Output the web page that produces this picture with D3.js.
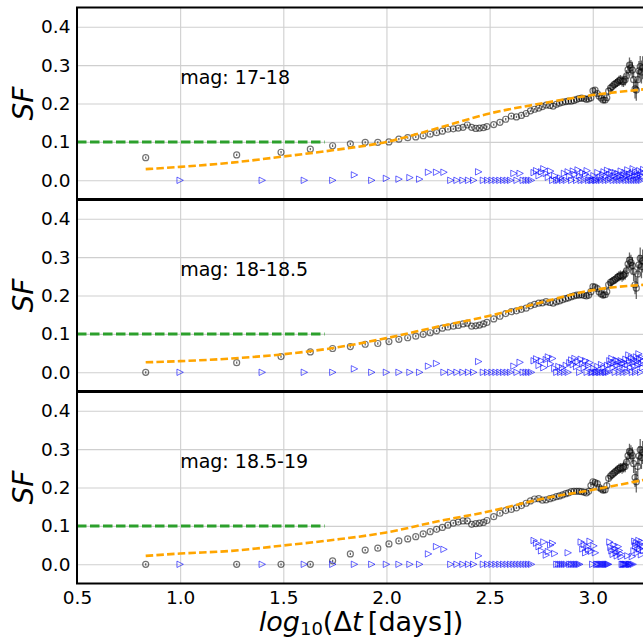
<!DOCTYPE html>
<html>
<head>
<meta charset="utf-8">
<script src="https://cdn.jsdelivr.net/npm/d3@7"></script>
<style>
  html, body { margin: 0; padding: 0; background: #fff; }
  svg { display: block; }
  text { font-family: "DejaVu Sans", sans-serif; fill: #000; }
</style>
</head>
<body>
<svg id="chart" width="643" height="641"></svg>
<script>
// ---------------- data ----------------
const xTicks = [0.5, 1.0, 1.5, 2.0, 2.5, 3.0];
const yTicks = [0.0, 0.1, 0.2, 0.3, 0.4];
const panelLabels = ["mag: 17-18", "mag: 18-18.5", "mag: 18.5-19"];

// structure-function bins (log10 of time lag in days)
const circX = [0.833,1.274,1.489,1.631,1.739,1.825,1.897,1.958,2.012,2.060,2.103,2.142,2.178,2.212,2.243,2.271,2.298,2.324,2.348,2.371,2.392,2.413,2.433,2.451,2.470,2.487,
  2.520,2.550,2.578,2.605,2.630,2.654,2.677,2.698,2.718,2.738,
  2.756,2.774,2.792,2.808,2.824,2.839,2.854,2.869,2.882,2.896,
  2.909,2.922,2.934,2.946,2.958,2.969,2.980,2.991,3.001,3.011,
  3.022,3.031,3.041,3.050,3.060,3.068,3.077,3.086,3.094,3.103,
  3.111,3.119,3.127,3.134,3.142,3.149,3.157,3.164,3.171,3.178,
  3.185,3.192,3.198,3.205,3.211,3.218,3.224,3.230,3.236,3.242];

const circErr = [0.003,0.003,0.003,0.003,0.003,0.003,0.003,0.003,0.003,0.003,0.003,0.003,0.003,0.003,0.003,0.003,0.003,0.003,0.003,0.003,0.003,0.003,0.003,0.003,0.003,0.003,
  0.003,0.003,0.003,0.003,0.003,0.003,0.003,0.003,0.003,0.003,
  0.003,0.003,0.003,0.003,0.003,0.003,0.003,0.003,0.003,0.003,
  0.004,0.004,0.004,0.004,0.004,0.004,0.004,0.004,0.006,0.006,
  0.007,0.007,0.007,0.008,0.008,0.008,0.010,0.010,0.011,0.011,
  0.012,0.012,0.013,0.013,0.014,0.014,0.015,0.015,0.018,0.020,
  0.020,0.022,0.024,0.025,0.028,0.025,0.026,0.028,0.030,0.030];

const circY1 = [0.059,0.066,0.073,0.081,0.090,0.095,0.099,0.099,0.100,0.107,0.111,0.113,0.116,0.120,0.124,0.128,0.133,0.134,0.136,0.138,0.144,0.138,0.135,0.136,0.137,0.140,
  0.145,0.151,0.159,0.167,0.165,0.169,0.174,0.181,0.185,0.188,
  0.192,0.196,0.195,0.193,0.198,0.201,0.203,0.205,0.206,0.206,
  0.208,0.211,0.213,0.214,0.213,0.211,0.212,0.215,0.233,0.235,
  0.226,0.219,0.214,0.209,0.209,0.215,0.232,0.240,0.244,0.249,
  0.252,0.255,0.259,0.261,0.258,0.257,0.262,0.272,0.288,0.300,
  0.293,0.287,0.262,0.238,0.235,0.262,0.285,0.296,0.282,0.293];

const circY2 = [0.000,0.025,0.041,0.053,0.062,0.067,0.073,0.075,0.080,0.086,0.090,0.094,0.099,0.103,0.108,0.115,0.118,0.120,0.122,0.126,0.128,0.120,0.121,0.123,0.126,0.130,
  0.139,0.146,0.153,0.158,0.160,0.164,0.167,0.173,0.177,0.180,
  0.181,0.184,0.182,0.180,0.184,0.186,0.189,0.192,0.194,0.197,
  0.199,0.201,0.201,0.202,0.200,0.199,0.201,0.210,0.223,0.222,
  0.218,0.209,0.204,0.201,0.202,0.210,0.228,0.234,0.237,0.240,
  0.243,0.247,0.250,0.252,0.250,0.253,0.256,0.265,0.282,0.292,
  0.286,0.278,0.262,0.228,0.219,0.256,0.280,0.297,0.275,0.290];

const circY3 = [0.000,0.000,0.000,0.000,0.009,0.027,0.037,0.042,0.053,0.061,0.066,0.072,0.079,0.085,0.091,0.096,0.102,0.107,0.110,0.113,0.113,0.104,0.106,0.107,0.109,0.114,
  0.124,0.133,0.140,0.143,0.147,0.153,0.159,0.165,0.170,0.171,
  0.167,0.168,0.171,0.173,0.176,0.178,0.181,0.184,0.186,0.189,
  0.190,0.190,0.190,0.189,0.188,0.186,0.190,0.205,0.215,0.213,
  0.210,0.200,0.196,0.193,0.194,0.205,0.224,0.230,0.234,0.238,
  0.242,0.245,0.249,0.251,0.250,0.253,0.255,0.266,0.283,0.294,
  0.290,0.283,0.262,0.226,0.215,0.255,0.282,0.298,0.278,0.291];

// second statistic (triangles)
const triX = [1.000,1.398,1.602,1.740,1.845,1.929,2.000,2.061,2.114,2.161,
  2.204,2.243,2.279,2.312,2.342,2.371,2.398,2.423,2.447,2.470,
  2.491,2.512,2.531,2.550,2.568,2.585,2.602,2.618,2.633,2.648,
  2.663,2.677,2.690,2.703,
  2.716,2.728,2.740,2.752,2.763,2.775,2.785,2.796,2.806,2.816,
  2.826,2.836,2.845,2.854,2.863,2.872,2.881,2.889,2.898,2.906,
  2.914,2.922,2.929,2.937,2.944,2.952,2.959,2.966,2.973,2.980,
  2.987,2.993,3.000,3.006,3.013,3.019,3.025,3.031,3.037,3.043,
  3.049,3.055,3.061,3.066,3.072,3.077,3.083,3.088,3.093,3.099,
  3.104,3.109,3.114,3.119,3.124,3.129,3.134,3.138,3.143,3.148,
  3.152,3.157,3.161,3.166,3.170,3.175,3.179,3.183,3.188,3.192,
  3.196,3.200,3.204,3.208,3.212,3.216,3.220,3.224,3.228,3.232,
  3.236,3.239,3.243,3.247];

const triY1 = [0,0,0,0,0.014,0,0.005,0.003,0.007,0.003,
  0.021,0.021,0.021,0,0,0,0,0,0.022,0,
  0,0,0,0,0,0,0,0.018,0,0.018,
  0,0,0,0,
  0.020,0.025,0.012,0.022,0.030,0.018,0.008,0.024,0,0.012,
  0,0,0.006,0,0.018,0,0.022,0.010,0,0.024,
  0.015,0,0.027,0.012,0,0.020,0,0.016,0.025,0,
  0.008,0,0,0.012,0,0,0.020,0,0.008,0,
  0.015,0.022,0,0.010,0.026,0,0.015,0.006,0.022,0,
  0.012,0.020,0,0.008,0.017,0,0.010,0.024,0,0.014,
  0.006,0.020,0,0.012,0.027,0,0.016,0.009,0,0.018,
  0.030,0,0.012,0.022,0,0.015,0.008,0,0.025,0.014,
  0,0.020,0.010,0.028];

const triY2 = [0,0,0,0,0.009,0,0,0,0,0,
  0.016,0.023,0,0,0,0,0,0,0.028,0,
  0,0,0,0,0,0,0,0.016,0,0.026,
  0,0,0,0,
  0.030,0.035,0.018,0.030,0.012,0.033,0.040,0.022,0.036,0.010,
  0,0.015,0,0.012,0,0.018,0,0.025,0.032,0.020,
  0.036,0.015,0.028,0,0.034,0.022,0.012,0.030,0,0.018,
  0.025,0,0,0.010,0,0,0.015,0,0,0.020,
  0,0.012,0,0,0.018,0,0.030,0.020,0.036,0.012,
  0.025,0,0.032,0.018,0.028,0,0.015,0.030,0.022,0,
  0.026,0.010,0.034,0,0.020,0.045,0.030,0.012,0.038,0,
  0.025,0.033,0.015,0,0.040,0.028,0.018,0.048,0.035,0,
  0.022,0.038,0.012,0.030];

const triY3 = [0,0,0,0,0,0,0,0,0,0,
  0.027,0.046,0.039,0,0,0,0,0,0.022,0,
  0,0,0,0,0,0,0,0,0,0,
  0,0,0,0,
  0.062,0.055,0.046,0.035,0.058,0.024,0.033,0.050,0.055,0.028,
  0,0,0,0,0,0,0.030,0,0,0,
  0,0,0,0,0.058,0.040,0.052,0.030,0.046,0.038,
  0.060,0.034,0,0.048,0.030,0,0,0,0,0,
  0,0,0,0,0,0,0.058,0.044,0.035,0.026,
  0.050,0.040,0.030,0.022,0.046,0.036,0.028,0.020,0,0,
  0,0,0,0,0.022,0,0,0,0,0.020,
  0,0.035,0.060,0.048,0.055,0.030,0.045,0.062,0.040,0.052,
  0.025,0.058,0.046,0.036];

// model curves (orange dashed)
const modelX  = [0.833, 1.0, 1.25, 1.5, 1.75, 2.0, 2.25, 2.5, 2.75, 3.0, 3.25];
const modelY1 = [0.029, 0.035, 0.046, 0.062, 0.079, 0.100, 0.136, 0.174, 0.200, 0.222, 0.237];
const modelY2 = [0.026, 0.029, 0.036, 0.047, 0.064, 0.089, 0.119, 0.147, 0.182, 0.214, 0.228];
const modelY3 = [0.022, 0.028, 0.035, 0.049, 0.064, 0.083, 0.112, 0.138, 0.170, 0.194, 0.220];

// green reference level
const refX = [0.5, 1.7];
const refY = [0.1, 0.1];

// ---------------- drawing ----------------
const svg = d3.select("#chart");
const plotLeft = 77, plotRight = 646.4;
const panelTops = [7.5, 199.5, 391.5];
const panelH = 192;

const x = d3.scaleLinear().domain([0.5, 3.26]).range([plotLeft, plotRight]);

const panels = [
  { label: panelLabels[0], cy: circY1, ty: triY1, my: modelY1 },
  { label: panelLabels[1], cy: circY2, ty: triY2, my: modelY2 },
  { label: panelLabels[2], cy: circY3, ty: triY3, my: modelY3 }
];

const triPath = "M3.2,0L-3.2,3.2L-3.2,-3.2Z";

panels.forEach((p, i) => {
  const top = panelTops[i];
  const y = d3.scaleLinear().domain([-0.05, 0.45]).range([top + panelH, top]);
  const g = svg.append("g");

  const clipId = "clip" + i;
  svg.append("clipPath").attr("id", clipId)
    .append("rect").attr("x", plotLeft).attr("y", top)
    .attr("width", plotRight - plotLeft).attr("height", panelH);

  // grid via axes
  const gx = g.append("g").attr("transform", `translate(0,${top + panelH})`)
    .call(d3.axisBottom(x).tickValues(xTicks).tickSize(-panelH).tickFormat(""));
  gx.select(".domain").remove();
  gx.selectAll("line").attr("stroke", "#cfcfcf").attr("stroke-width", 1.1);

  const gy = g.append("g").attr("transform", `translate(${plotLeft},0)`)
    .call(d3.axisLeft(y).tickValues(yTicks).tickSize(-(plotRight - plotLeft)).tickFormat(""));
  gy.select(".domain").remove();
  gy.selectAll("line").attr("stroke", "#cfcfcf").attr("stroke-width", 1.1);

  const body = g.append("g").attr("clip-path", `url(#${clipId})`);

  // circles with error bars
  const cdata = circX.map((xv, k) => ({ x: xv, y: p.cy[k], e: circErr[k] }));
  const cg = body.append("g");
  cg.selectAll("line.err").data(cdata).join("line")
    .attr("class", "err")
    .attr("x1", d => x(d.x)).attr("x2", d => x(d.x))
    .attr("y1", d => y(d.y - d.e)).attr("y2", d => y(d.y + d.e))
    .attr("stroke", "#000").attr("stroke-opacity", 0.6).attr("stroke-width", 1.3);
  cg.selectAll("circle").data(cdata).join("circle")
    .attr("cx", d => x(d.x)).attr("cy", d => y(d.y)).attr("r", 3)
    .attr("fill", "none").attr("stroke", "#000").attr("stroke-opacity", 0.55).attr("stroke-width", 1.2);

  // triangles
  const tdata = triX.map((xv, k) => ({ x: xv, y: p.ty[k] }));
  body.append("g").selectAll("path").data(tdata).join("path")
    .attr("d", triPath)
    .attr("transform", d => `translate(${x(d.x)},${y(d.y)})`)
    .attr("fill", "none").attr("stroke", "#0000ff").attr("stroke-opacity", 0.6).attr("stroke-width", 1);

  // model curve
  const line = d3.line().x(d => x(d[0])).y(d => y(d[1])).curve(d3.curveMonotoneX);
  body.append("path")
    .attr("d", line(modelX.map((xv, k) => [xv, p.my[k]])))
    .attr("fill", "none").attr("stroke", "#ffa500").attr("stroke-width", 2.6)
    .attr("stroke-dasharray", "7.5,3.2");

  // green reference line
  body.append("path")
    .attr("d", d3.line().x(d => x(d[0])).y(d => y(d[1]))(refX.map((xv, k) => [xv, refY[k]])))
    .attr("fill", "none").attr("stroke", "#2ca02c").attr("stroke-width", 3)
    .attr("stroke-dasharray", "9.5,3.5");

  // annotation
  g.append("text").attr("x", x(1.0)).attr("y", y(0.25))
    .attr("font-size", 19).text(p.label);

  // y tick labels
  const yl = g.append("g").attr("transform", `translate(${plotLeft},0)`)
    .call(d3.axisLeft(y).tickValues(yTicks).tickSize(0).tickPadding(6.5).tickFormat(d3.format(".1f")));
  yl.select(".domain").remove();
  yl.selectAll("text").attr("font-size", 18.5).attr("font-family", "DejaVu Sans").attr("fill", "#000");

  // y label
  g.append("text")
    .attr("transform", `translate(33,${top + panelH / 2}) rotate(-90)`)
    .attr("text-anchor", "middle").attr("font-size", 28).attr("font-style", "italic")
    .text("SF");

  // frame
  g.append("rect").attr("x", plotLeft).attr("y", top)
    .attr("width", plotRight - plotLeft).attr("height", panelH)
    .attr("fill", "none").attr("stroke", "#000").attr("stroke-width", 2);
});

// thicker separators between panels
[panelTops[1], panelTops[2]].forEach(t => {
  svg.append("line").attr("x1", plotLeft).attr("x2", plotRight)
    .attr("y1", t).attr("y2", t).attr("stroke", "#000").attr("stroke-width", 3);
});

// x tick labels
const bottom = panelTops[2] + panelH;
const xa = svg.append("g").attr("transform", `translate(0,${bottom})`)
  .call(d3.axisBottom(x).tickValues(xTicks).tickSize(0).tickPadding(7).tickFormat(d3.format(".1f")));
xa.select(".domain").remove();
xa.selectAll("text").attr("font-size", 18.5).attr("font-family", "DejaVu Sans").attr("fill", "#000");

// x label
const xl = svg.append("text").attr("x", 361).attr("y", 631)
  .attr("text-anchor", "middle").attr("font-size", 27);
xl.append("tspan").attr("font-style", "italic").text("log");
xl.append("tspan").attr("font-size", 18).attr("dy", 4).text("10");
xl.append("tspan").attr("dy", -4).text("(\u0394");
xl.append("tspan").attr("font-style", "italic").text("t");
xl.append("tspan").text("\u2009[days])");
</script>
</body>
</html>
